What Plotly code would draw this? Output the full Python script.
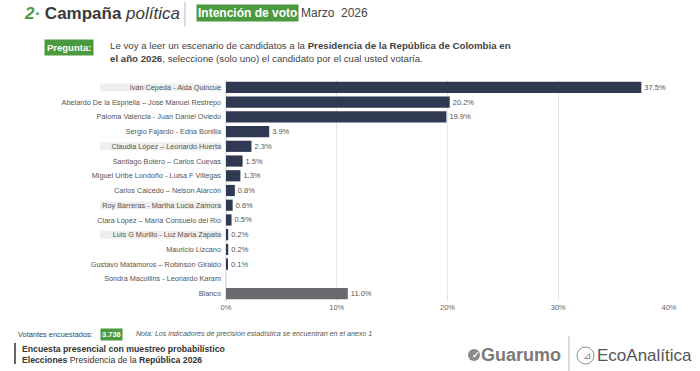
import plotly.graph_objects as go

# ---------------- data ----------------
candidates = [
    "Iván Cepeda - Aida Quincue",
    "Abelardo De la Espriella – José Manuel Restrepo",
    "Paloma Valencia - Juan Daniel Oviedo",
    "Sergio Fajardo - Edna Bonilla",
    "Claudia López – Leonardo Huerta",
    "Santiago Botero – Carlos Cuevas",
    "Miguel Uribe Londoño - Luisa F Villegas",
    "Carlos Caicedo – Nelson Alarcón",
    "Roy Barreras - Martha Lucia Zamora",
    "Clara López – María Consuelo del Rio",
    "Luis G Murillo - Luz María Zapata",
    "Mauricio Lizcano",
    "Gustavo Matamoros – Robinson Giraldo",
    "Sondra Macollins - Leonardo Karam",
    "Blanco",
]
values = [37.5, 20.2, 19.9, 3.9, 2.3, 1.5, 1.3, 0.8, 0.6, 0.5, 0.2, 0.2, 0.1, 0.0, 11.0]
highlighted = [
    "Iván Cepeda - Aida Quincue",
    "Claudia López – Leonardo Huerta",
    "Roy Barreras - Martha Lucia Zamora",
    "Luis G Murillo - Luz María Zapata",
]
x_ticks = [0, 10, 20, 30, 40]
x_tick_labels = ["0%", "10%", "20%", "30%", "40%"]

# ---------------- styling ----------------
W, H = 700, 371
ML, MR, MT, MB = 226, 31, 80, 70
PW, PH = W - ML - MR, H - MT - MB
GREEN = "#4b9a3f"
NAVY = "#2f3a52"
GREY_BAR = "#6a6a6e"
FONT = "Liberation Sans, Arial, sans-serif"


def px(xp):
    return (xp - ML) / PW


def py(yp):
    return (H - MB - yp) / PH


colors = [GREY_BAR if c == "Blanco" else NAVY for c in candidates]
texts = [f"{v:.1f}%" if v > 0 else "" for v in values]

fig = go.Figure(
    go.Bar(
        x=values,
        y=candidates,
        orientation="h",
        marker=dict(color=colors, line=dict(width=0)),
        width=0.76,
        text=texts,
        textposition="outside",
        cliponaxis=False,
        textfont=dict(size=7.5, color="#555555", family=FONT),
        hoverinfo="skip",
    )
)

shapes = []
# highlight boxes behind some labels
for name in highlighted:
    i = candidates.index(name)
    shapes.append(dict(type="rect", xref="paper", yref="y", x0=px(100), x1=px(222),
                       y0=i - 0.27, y1=i + 0.27, fillcolor="#efefef", line=dict(width=0),
                       layer="below"))
# title separator
shapes.append(dict(type="line", xref="paper", yref="paper", x0=px(185), x1=px(185),
                   y0=py(2), y1=py(27), line=dict(color="#bbbbbb", width=1)))
# footer left bar
shapes.append(dict(type="line", xref="paper", yref="paper", x0=px(15), x1=px(15),
                   y0=py(343), y1=py(364), line=dict(color="#333333", width=1.5)))
# logo separator
shapes.append(dict(type="line", xref="paper", yref="paper", x0=px(569), x1=px(569),
                   y0=py(336), y1=py(371), line=dict(color="#bbbbbb", width=1)))
# Guarumo icon
shapes.append(dict(type="circle", xref="paper", yref="paper", x0=px(468), x1=px(480),
                   y0=py(361), y1=py(349), fillcolor="#8a8a8a", line=dict(width=0)))
# EcoAnalitica icon
shapes.append(dict(type="circle", xref="paper", yref="paper", x0=px(577), x1=px(594),
                   y0=py(364), y1=py(347), fillcolor="rgba(0,0,0,0)",
                   line=dict(color="#8a8a8a", width=1)))

annotations = [
    dict(x=px(22), y=py(14), text=f"<b><i><span style='color:{GREEN}'>2·</span></i> Campaña</b> <i>política</i>",
         font=dict(size=17, color="#3a3a3a", family=FONT)),
    dict(x=px(196), y=py(13), text="<b>Intención de voto</b>", bgcolor=GREEN, borderpad=1,
         font=dict(size=12, color="white", family=FONT)),
    dict(x=px(299), y=py(13), text="Marzo  2026", font=dict(size=12, color="#444444", family=FONT)),
    dict(x=px(44), y=py(47), text="<b>Pregunta:</b>", bgcolor=GREEN, borderpad=2,
         font=dict(size=9.5, color="white", family=FONT)),
    dict(x=px(108), y=py(52),
         text="Le voy a leer un escenario de candidatos a la <b>Presidencia de la República de Colombia en</b><br>"
              "<b>el año 2026</b>, seleccione (solo uno) el candidato por el cual usted votaría.",
         align="left", font=dict(size=9.7, color="#444444", family=FONT)),
    dict(x=px(16), y=py(334), text="Votantes encuestados:", font=dict(size=7.4, color="#444444", family=FONT)),
    dict(x=px(100), y=py(334), text="<b>3.736</b>", bgcolor=GREEN, borderpad=1,
         font=dict(size=7.5, color="white", family=FONT)),
    dict(x=px(134), y=py(334),
         text="<i>Nota: Los indicadores de precisión estadística se encuentran en el anexo 1</i>",
         font=dict(size=7.1, color="#555555", family=FONT)),
    dict(x=px(20), y=py(354),
         text="<b>Encuesta presencial con muestreo probabilístico</b><br><b>Elecciones</b> Presidencia de la <b>República 2026</b>",
         align="left", font=dict(size=8.7, color="#333333", family=FONT)),
    dict(x=px(470), y=py(355), text="<b>✓</b>", font=dict(size=9, color="white", family=FONT)),
    dict(x=px(479), y=py(355), text="<b>Guarumo</b>", font=dict(size=18, color="#7a7a7a", family=FONT)),
    dict(x=px(581), y=py(355), text="⊿", font=dict(size=10, color="#7a7a7a", family=FONT)),
    dict(x=px(595), y=py(355), text="EcoAnalítica", font=dict(size=17, color="#555555", family=FONT)),
]
for a in annotations:
    a.update(xref="paper", yref="paper", xanchor="left", yanchor="middle", showarrow=False)

fig.update_layout(
    width=W, height=H,
    margin=dict(l=ML, r=MR, t=MT, b=MB, pad=0),
    paper_bgcolor="white", plot_bgcolor="white",
    showlegend=False,
    font=dict(family=FONT),
    bargap=0.24,
    shapes=shapes,
    annotations=annotations,
    xaxis=dict(range=[0, 40], tickvals=x_ticks, ticktext=x_tick_labels,
               showgrid=True, gridcolor="#e6e6e6", gridwidth=1,
               zeroline=True, zerolinecolor="#e6e6e6", showline=False,
               tickfont=dict(size=7.5, color="#666666"), ticks="", fixedrange=True),
    yaxis=dict(categoryorder="array", categoryarray=candidates, autorange="reversed",
               tickfont=dict(size=7.3, color="#555555"), ticks="", ticklabelstandoff=4,
               showgrid=False, showline=False, zeroline=False, fixedrange=True),
)

fig.write_html("out.html", config={"displayModeBar": False},
               post_script="document.body.style.margin='0';document.body.style.overflow='hidden';")
